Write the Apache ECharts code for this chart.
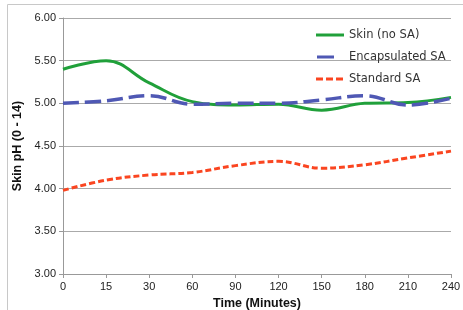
<!DOCTYPE html>
<html>
<head>
<meta charset="utf-8">
<script src="https://cdn.jsdelivr.net/npm/echarts@6/dist/echarts.min.js"></script>
<style>
  html, body { margin: 0; padding: 0; background: #fff; }
  #chart { width: 463px; height: 310px; }
</style>
</head>
<body>
<div id="chart"></div>
<script>
  var minutes = ['0', '15', '30', '60', '90', '120', '150', '180', '210', '240'];
  var skinNoSA = [5.40, 5.50, 5.24, 5.02, 4.98, 4.99, 4.92, 5.00, 5.01, 5.07];
  var encapsulatedSA = [5.00, 5.03, 5.09, 4.99, 5.00, 5.00, 5.04, 5.09, 4.98, 5.06];
  var standardSA = [3.98, 4.10, 4.16, 4.19, 4.27, 4.32, 4.24, 4.28, 4.36, 4.44];

  var myChart = echarts.init(document.getElementById('chart'));
  var axisFont = 'Liberation Sans';

  var option = {
    animation: false,
    graphic: [{
      type: 'rect',
      shape: { x: 7.5, y: 4.5, width: 470, height: 320 },
      style: { fill: 'none', stroke: '#c8c8c8', lineWidth: 1 },
      silent: true
    }],
    legend: {
      left: 311,
      top: 24,
      orient: 'vertical',
      itemGap: 10,
      itemWidth: 28,
      itemHeight: 12,
      textStyle: { fontFamily: 'DejaVu Sans', fontSize: 11.5, color: '#333' },
      data: [
        // degenerate sub-paths at the ends keep every icon the same width
        { name: 'Skin (no SA)', icon: 'path://M0,5 L28,5 L28,8 L0,8 Z' },
        { name: 'Encapsulated SA', icon: 'path://M1,5 L18,5 L18,8 L1,8 Z M0,6 L0,6 Z M28,6 L28,6 Z' },
        { name: 'Standard SA', icon: 'path://M0,5 L7,5 L7,8 L0,8 Z M10,5 L17,5 L17,8 L10,8 Z M20,5 L27,5 L27,8 L20,8 Z M28,6 L28,6 Z' }
      ]
    },
    grid: { left: 63, right: 12, top: 18, bottom: 36, outerBoundsMode: 'none' },
    xAxis: {
      type: 'category',
      data: minutes,
      boundaryGap: false,
      name: 'Time (Minutes)',
      nameLocation: 'middle',
      nameGap: 22,
      nameTextStyle: { fontFamily: axisFont, fontWeight: 'bold', fontSize: 12.5, color: '#111' },
      axisLine: { lineStyle: { color: '#999', width: 1 } },
      axisTick: { show: true, length: 4, alignWithLabel: true, lineStyle: { color: '#999' } },
      axisLabel: { fontFamily: axisFont, fontSize: 11, color: '#222', margin: 7 },
      splitLine: { show: false }
    },
    yAxis: {
      type: 'value',
      min: 3,
      max: 6,
      interval: 0.5,
      name: 'Skin pH (0 - 14)',
      nameLocation: 'middle',
      nameGap: 33,
      nameTextStyle: { fontFamily: axisFont, fontWeight: 'bold', fontSize: 12.5, color: '#111' },
      axisLine: { show: true, lineStyle: { color: '#999', width: 1 } },
      axisTick: { show: true, length: 4, lineStyle: { color: '#999' } },
      axisLabel: {
        fontFamily: axisFont, fontSize: 11, color: '#222', margin: 7,
        formatter: function (v) { return v.toFixed(2); }
      },
      splitLine: { show: true, lineStyle: { color: '#aaa', width: 1 } }
    },
    series: [{
      name: 'Skin (no SA)',
      type: 'line',
      data: skinNoSA,
      smooth: 0.4,
      symbol: 'none',
      lineStyle: { color: '#20a03a', width: 3 },
      itemStyle: { color: '#20a03a' }
    }, {
      name: 'Encapsulated SA',
      type: 'line',
      data: encapsulatedSA,
      smooth: 0.4,
      symbol: 'none',
      lineStyle: { color: '#4f58b4', width: 3.5, type: [16, 6] },
      itemStyle: { color: '#4f58b4' }
    }, {
      name: 'Standard SA',
      type: 'line',
      data: standardSA,
      smooth: 0.4,
      symbol: 'none',
      lineStyle: { color: '#fa4520', width: 3, type: [6, 3] },
      itemStyle: { color: '#fa4520' }
    }]
  };
  myChart.setOption(option);
</script>
</body>
</html>
